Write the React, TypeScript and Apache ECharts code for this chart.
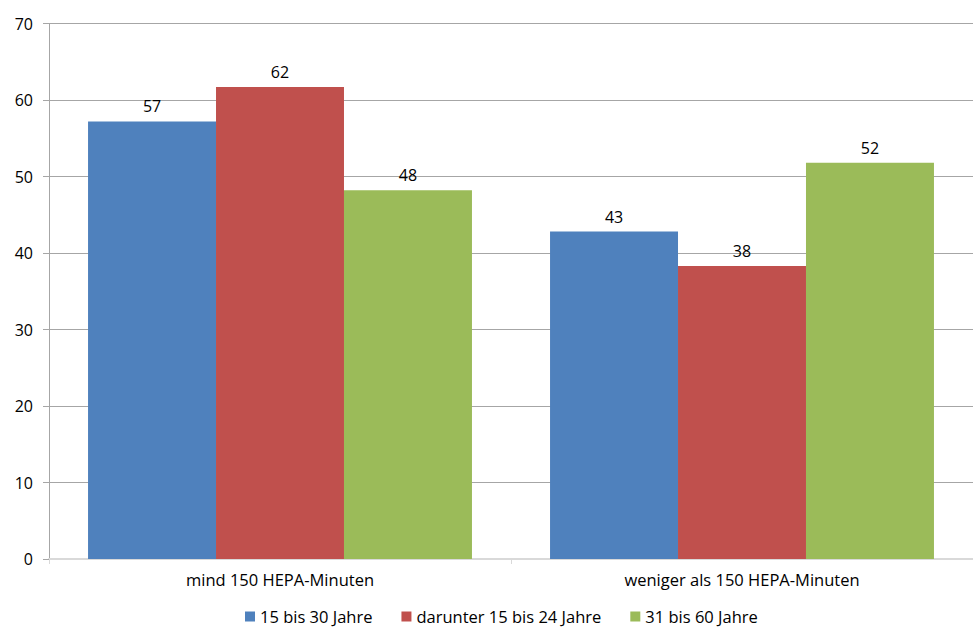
import React, { useEffect, useRef } from "react";
import * as echarts from "echarts";

const categories = ["mind 150 HEPA-Minuten", "weniger als 150 HEPA-Minuten"];
const seriesNames = ["15 bis 30 Jahre", "darunter 15 bis 24 Jahre", "31 bis 60 Jahre"];
const values15to30 = [57.2, 42.8];
const values15to24 = [61.7, 38.3];
const values31to60 = [48.2, 51.8];
const colors = ["#4f81bd", "#c0504d", "#9bbb59"];

const FONT = "'Open Sans', 'Liberation Sans', sans-serif";

export default function App() {
  const ref = useRef<HTMLDivElement>(null);
  useEffect(() => {
    if (!ref.current) return;
    const chart = echarts.init(ref.current, undefined, { renderer: "svg" });
    const data = [values15to30, values15to24, values31to60];
    chart.setOption({
      animation: false,
      textStyle: { fontFamily: FONT },
      grid: { left: 49, right: 0, top: 23.5, bottom: 77, containLabel: false },
      legend: {
        bottom: 6,
        left: 240,
        itemWidth: 10,
        itemHeight: 10,
        itemGap: 29,
        icon: "rect",
        textStyle: { fontSize: 16.5, color: "#000", fontFamily: FONT },
        data: seriesNames,
      },
      xAxis: {
        type: "category",
        data: categories,
        axisLine: { lineStyle: { color: "#d9d9d9", width: 2 } },
        axisTick: { show: true, length: 5, lineStyle: { color: "#d9d9d9", width: 1 } },
        axisLabel: { fontSize: 16.5, color: "#000", margin: 12 },
      },
      yAxis: {
        type: "value",
        min: 0,
        max: 70,
        interval: 10,
        axisLine: { show: true, lineStyle: { color: "#a6a6a6" } },
        axisTick: { show: true, length: 6, lineStyle: { color: "#a6a6a6" } },
        axisLabel: { fontSize: 16, color: "#000", margin: 16 },
        splitLine: { lineStyle: { color: "#a6a6a6", width: 1 } },
      },
      series: seriesNames.map((name, i) => ({
        name,
        type: "bar",
        data: data[i],
        itemStyle: { color: colors[i] },
        barGap: "0%",
        barCategoryGap: "16.9%",
        label: {
          show: true,
          position: "top",
          distance: 7,
          fontSize: 16,
          color: "#000",
          formatter: (p: any) => String(Math.round(p.value)),
        },
      })),
    });
    return () => chart.dispose();
  }, []);
  return <div ref={ref} style={{ width: 973, height: 636, position: "absolute", left: 0, top: 0 }} />;
}
